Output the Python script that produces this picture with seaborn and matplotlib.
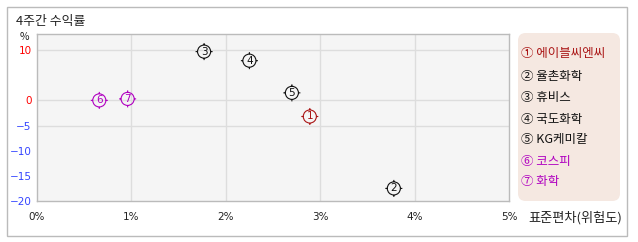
import matplotlib
matplotlib.use("Agg")
import matplotlib.pyplot as plt
from matplotlib.path import Path
from matplotlib.patches import FancyBboxPatch, Rectangle
import seaborn as sns
import pandas as pd
import numpy as np

names = ["에이블씨엔씨", "율촌화학", "휴비스", "국도화학", "KG케미칼", "코스피", "화학"]
labels = ["1", "2", "3", "4", "5", "6", "7"]
circled = ["①", "②", "③", "④", "⑤", "⑥", "⑦"]
risk = [2.89, 3.78, 1.77, 2.25, 2.70, 0.66, 0.96]
ret = [-3.2, -17.5, 9.7, 7.9, 1.5, 0.0, 0.3]
xticks = [0, 1, 2, 3, 4, 5]
yticks = [10, 0, -5, -10, -15, -20]

colors = ["#AA1515", "#111111", "#111111", "#111111", "#111111", "#B000C0", "#B000C0"]
ytick_colors = ["#FF0000", "#FF0000", "#3344FF", "#3344FF", "#3344FF", "#3344FF"]

df = pd.DataFrame({"risk": risk, "ret": ret, "label": labels, "name": names})

sns.set_theme(style="white")
plt.rcParams["font.family"] = ["Noto Sans CJK KR", "DejaVu Sans"]

fig = plt.figure(figsize=(6.38, 2.42), dpi=100)
W, H = 638, 242
# outer frame
frame = Rectangle((6.5 / W, 1 - 235.5 / H), (627 - 6.5) / W, (235.5 - 7) / H,
                  transform=fig.transFigure, facecolor="none",
                  edgecolor="#BBBBBB", linewidth=1, zorder=-5)
fig.patches.append(frame)

ax = fig.add_axes([37 / W, 1 - 201 / H, (509 - 37) / W, (201 - 34) / H])
ax.set_zorder(2)
ax.set_facecolor("#F5F5F5")

# custom marker: circle with four ticks
circ = Path.unit_circle()
ticks = Path([(0, 1), (0, 1.3), (0, -1), (0, -1.3), (1, 0), (1.3, 0), (-1, 0), (-1.3, 0)],
             [Path.MOVETO, Path.LINETO] * 4)
marker = Path.make_compound_path(circ, ticks)

sns.scatterplot(data=df, x="risk", y="ret", hue="label", palette=colors, marker=marker,
                s=150, linewidth=0.8, legend=False, ax=ax, zorder=3)
coll = ax.collections[-1]
coll.set_edgecolors(colors)
coll.set_facecolors("none")

for x, y, lab, c in zip(risk, ret, labels, colors):
    ax.text(x, y, lab, ha="center", va="center", fontsize=7.5, color=c, zorder=4,
            family="DejaVu Sans")

ax.set_xlim(0, 5)
ax.set_ylim(-20, 13.2)
ax.set_xticks(xticks)
ax.set_xticklabels([f"{t}%" for t in xticks], fontsize=7.5, color="#222222", family="DejaVu Sans")
ax.set_yticks(yticks)
ax.set_yticklabels([str(t).replace("-", "−") for t in yticks], fontsize=7.5, family="DejaVu Sans")
for lab, c in zip(ax.get_yticklabels(), ytick_colors):
    lab.set_color(c)
ax.tick_params(axis="both", length=0, pad=4)
ax.tick_params(axis="x", pad=8)
for t in [1, 2, 3, 4]:
    ax.axvline(t, color="#DDDDDD", linewidth=1, zorder=1)
for t in [10, 0, -5]:
    ax.axhline(t, color="#DDDDDD", linewidth=1, zorder=1)
for s in ax.spines.values():
    s.set_color("#BBBBBB")
    s.set_linewidth(1)
ax.set_xlabel("")
ax.set_ylabel("")

fig.text(16 / W, 1 - 21 / H, "4주간 수익률", fontsize=9.3, color="#222222", va="center", ha="left")
fig.text(24 / W, 1 - 37 / H, "%", fontsize=7.5, color="#222222", va="center", ha="center")
fig.text(528 / W, 1 - 218 / H, "표준편차(위험도)", fontsize=9.5, color="#222222", va="center", ha="left")

# legend box
fig.patches.append(FancyBboxPatch((518 / W, 1 - 201 / H), (620 - 518) / W, (201 - 33) / H,
                                  boxstyle="round,pad=0,rounding_size=0.012",
                                  transform=fig.transFigure, facecolor="#F5E8E1",
                                  edgecolor="none", mutation_aspect=W / H))
ys = [54, 76, 98, 119.5, 139, 161, 182]
for yy, cs, nm, c in zip(ys, circled, names, colors):
    fig.text(521 / W, 1 - yy / H, f"{cs} {nm}", fontsize=9, color=c, va="center", ha="left")

fig.savefig("out.png", dpi=100)
